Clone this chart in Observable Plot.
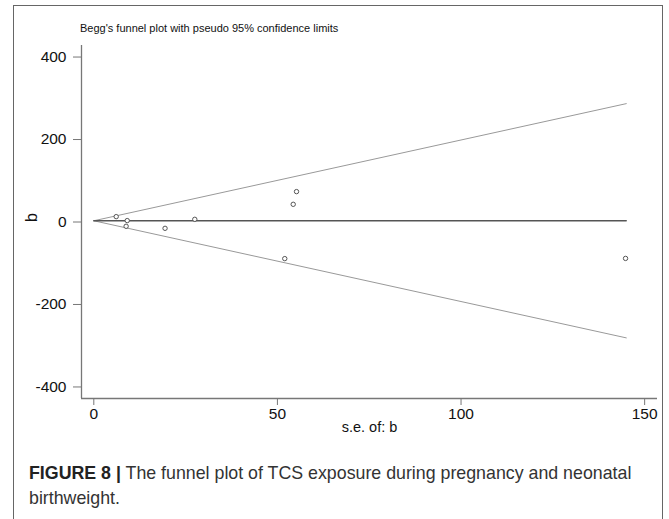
<!DOCTYPE html>
<html>
<head>
<meta charset="utf-8">
<script src="https://cdn.jsdelivr.net/npm/d3@7"></script>
<script src="https://cdn.jsdelivr.net/npm/@observablehq/plot@0.6"></script>
<style>
  html, body { margin: 0; padding: 0; background: #fff; }
  body { width: 669px; height: 519px; position: relative; overflow: hidden; font-family: "Liberation Sans", Arial, sans-serif; }
  #frame { position: absolute; left: 13px; top: 5px; width: 650px; height: 530px; border: 1.5px solid #666; box-sizing: border-box; }
  #title { position: absolute; left: 80px; top: 22px; font-size: 11px; line-height: 12px; color: #111; white-space: nowrap; }
  #chart { position: absolute; left: 0; top: 40px; }
  #caption { position: absolute; left: 29px; top: 461px; font-size: 17.8px; line-height: 25px; color: #333; white-space: nowrap; }
  #caption b { color: #222; }
</style>
</head>
<body>
<div id="frame"></div>
<div id="title">Begg's funnel plot with pseudo 95% confidence limits</div>
<div id="chart"></div>
<div id="caption"><b>FIGURE 8 |</b> The funnel plot of TCS exposure during pregnancy and neonatal<br>birthweight.</div>
<script>
// Study data
const seValues = [6.1, 9.1, 8.8, 19.4, 27.5, 55.2, 54.3, 52.0, 144.8];
const bValues  = [13, 3.4, -10.4, -15.3, 6.5, 73.7, 42.9, -88.8, -88.3];

// Pooled estimate and pseudo 95% limit endpoints
const limitSE     = [0, 145];
const pooledLine  = [3, 3];
const upperLimit  = [3, 287];
const lowerLimit  = [3, -281];

// Axis ticks
const xTicks = [0, 50, 100, 150];
const yTicks = [-400, -200, 0, 200, 400];

const xDomain = [-3.35, 153.5];
const yDomain = [-428, 428];

const studies = seValues.map((se, i) => ({se, b: bValues[i]}));
const pooled = limitSE.map((se, i) => ({se, b: pooledLine[i]}));
const upper = limitSE.map((se, i) => ({se, b: upperLimit[i]}));
const lower = limitSE.map((se, i) => ({se, b: lowerLimit[i]}));

const plot = Plot.plot({
  width: 669,
  height: 400,
  marginLeft: 81,
  marginRight: 12,
  marginTop: 5,
  marginBottom: 42,
  style: {fontFamily: "'Liberation Sans', Arial, sans-serif", background: "transparent", overflow: "visible"},
  x: {domain: xDomain},
  y: {domain: yDomain},
  marks: [
    Plot.ruleX([xDomain[0]], {stroke: "#777", strokeWidth: 1.3}),
    Plot.ruleY([yDomain[0]], {stroke: "#777", strokeWidth: 1.3}),
    Plot.axisY({ticks: yTicks, tickSize: 8, tickPadding: 7, fontSize: 15.5, stroke: "#777", color: "#111", tickFormat: d => String(d), label: null}),
    Plot.axisX({ticks: xTicks, tickSize: 7, tickPadding: 2, fontSize: 15.5, stroke: "#777", color: "#111", tickFormat: d => String(d), label: null}),
    Plot.line(upper, {x: "se", y: "b", stroke: "#999", strokeWidth: 1}),
    Plot.line(lower, {x: "se", y: "b", stroke: "#999", strokeWidth: 1}),
    Plot.line(pooled, {x: "se", y: "b", stroke: "#555", strokeWidth: 1.3}),
    Plot.dot(studies, {x: "se", y: "b", r: 2.2, stroke: "#555", fill: "white", strokeWidth: 1}),
    Plot.text(["s.e. of: b"], {frameAnchor: "bottom", dy: 33, fontSize: 14.5, fill: "#111"}),
    Plot.text(["b"], {frameAnchor: "left", dx: -50, rotate: -90, fontSize: 16, fill: "#111"})
  ]
});
document.getElementById("chart").appendChild(plot);
</script>
</body>
</html>
